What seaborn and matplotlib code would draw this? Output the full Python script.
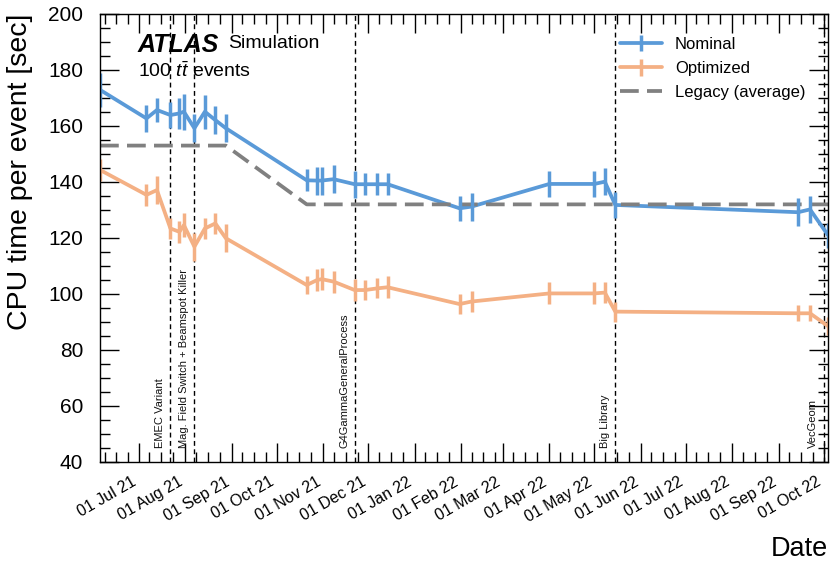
import numpy as np
import pandas as pd
import matplotlib
matplotlib.use("Agg")
import matplotlib.pyplot as plt
import matplotlib.dates as mdates
from matplotlib.ticker import MultipleLocator
import seaborn as sns

# ---------------- data ----------------
dates = ["2021-06-05", "2021-07-06", "2021-07-13", "2021-07-22", "2021-07-28",
         "2021-07-31", "2021-08-07", "2021-08-14", "2021-08-21", "2021-08-28",
         "2021-10-21", "2021-10-28", "2021-10-31", "2021-11-08", "2021-11-22",
         "2021-11-29", "2021-12-07", "2021-12-14", "2022-01-31", "2022-02-08",
         "2022-04-01", "2022-05-01", "2022-05-08", "2022-05-15", "2022-09-14",
         "2022-09-22", "2022-10-04"]
nominal = [172.9, 162.7, 165.7, 163.9, 164.5, 165.1, 159.2, 165.1, 162.1, 159.2,
           140.6, 140.5, 140.5, 141.0, 139.2, 139.2, 139.2, 139.2, 130.6, 131.2,
           139.3, 139.3, 140.1, 131.8, 129.2, 130.2, 121.0]
nominal_err = [6.0, 4.8, 4.2, 4.5, 5.6, 6.4, 5.0, 6.0, 5.0, 5.0,
               3.9, 5.0, 5.0, 5.0, 4.8, 3.9, 3.9, 3.9, 4.5, 5.0,
               4.8, 4.8, 4.8, 4.8, 5.0, 4.9, 4.5]
optimized = [144.3, 135.4, 137.1, 123.4, 122.2, 124.6, 116.9, 123.4, 125.2, 119.9,
             103.2, 105.0, 105.3, 104.4, 101.4, 101.4, 102.0, 102.4, 96.4, 97.3,
             100.2, 100.2, 100.5, 93.7, 93.1, 93.1, 88.5]
optimized_err = [3.9, 3.9, 5.0, 3.6, 3.9, 4.2, 5.0, 3.9, 3.9, 5.0,
                 3.3, 3.9, 3.9, 3.9, 3.9, 3.6, 3.6, 3.9, 3.6, 3.9,
                 3.9, 3.9, 3.6, 3.6, 2.8, 2.8, 3.3]
legacy = [153, 153, 153, 153, 153, 153, 153, 153, 153, 153,
          132, 132, 132, 132, 132, 132, 132, 132, 132, 132,
          132, 132, 132, 132, 132, 132, 132]
event_dates = ["2021-07-22", "2021-08-07", "2021-11-22", "2022-05-15", "2022-10-01"]
event_labels = ["EMEC Variant", "Mag. Field Switch + Beamspot Killer",
                "G4GammaGeneralProcess", "Big Library", "VecGeom"]

df = pd.DataFrame({"date": pd.to_datetime(dates), "Nominal": nominal,
                   "Optimized": optimized, "Legacy": legacy})

BLUE = "#5A9AD8"
ORANGE = "#F4B084"
GRAY = "#808080"

# ---------------- style ----------------
sns.set_theme(style="ticks")
plt.rcParams["font.family"] = ["Liberation Sans", "DejaVu Sans"]
plt.rcParams["mathtext.fontset"] = "custom"
plt.rcParams["mathtext.it"] = "Liberation Sans:italic"
plt.rcParams["mathtext.rm"] = "Liberation Sans"
for k in ["text.color", "axes.labelcolor", "xtick.color", "ytick.color",
          "axes.edgecolor"]:
    plt.rcParams[k] = "black"

fig = plt.figure(figsize=(8.3, 5.64), dpi=100)
ax = fig.add_axes([0.1205, 0.1809, 0.8771, 0.7943])

# lines
sns.lineplot(data=df, x="date", y="Nominal", ax=ax, color=BLUE, lw=2.7, legend=False)
sns.lineplot(data=df, x="date", y="Optimized", ax=ax, color=ORANGE, lw=2.7, legend=False)
sns.lineplot(data=df, x="date", y="Legacy", ax=ax, color=GRAY, lw=2.7, legend=False)
line_leg = ax.lines[-1]
line_leg.set_dashes((5, 2.2))

ax.errorbar(df["date"], df["Nominal"], yerr=nominal_err, fmt="none",
            ecolor=BLUE, elinewidth=2.5, capsize=0)
ax.errorbar(df["date"], df["Optimized"], yerr=optimized_err, fmt="none",
            ecolor=ORANGE, elinewidth=2.5, capsize=0)

# legend proxies (line + vertical error bar)
p_nom = ax.errorbar([np.nan], [np.nan], yerr=[1.0], fmt="-", color=BLUE, lw=2.7,
                    elinewidth=2.5, capsize=0)
p_opt = ax.errorbar([np.nan], [np.nan], yerr=[1.0], fmt="-", color=ORANGE, lw=2.7,
                    elinewidth=2.5, capsize=0)

# event lines
for d, lab in zip(event_dates, event_labels):
    dt = pd.Timestamp(d)
    ax.axvline(dt, color="black", lw=1.0, ls=(0, (3.5, 2.5)), zorder=1)
    ax.annotate(lab, xy=(dt, 45), xytext=(-4, 0), textcoords="offset points",
                rotation=90, ha="right", va="bottom", fontsize=8, color="#111111")

# axes
ax.set_xlim(pd.Timestamp(dates[0]), pd.Timestamp(dates[-1]))
ax.set_ylim(40, 200)
ax.yaxis.set_major_locator(MultipleLocator(20))
ax.yaxis.set_minor_locator(MultipleLocator(5))
ax.xaxis.set_major_locator(mdates.MonthLocator(bymonthday=1))
ax.xaxis.set_minor_locator(mdates.DayLocator(bymonthday=[8, 16, 24]))
ax.xaxis.set_major_formatter(mdates.DateFormatter("%d %b %y"))

ax.tick_params(axis="both", which="both", direction="in", top=True, right=True,
               color="black")
ax.tick_params(axis="both", which="major", length=14, width=1.0)
ax.tick_params(axis="both", which="minor", length=7, width=1.0)
ax.tick_params(axis="y", which="major", labelsize=15, pad=12)
ax.tick_params(axis="x", which="major", labelsize=11.5, pad=9)
for lab in ax.get_xticklabels():
    lab.set_rotation(30)
    lab.set_ha("right")
for sp in ax.spines.values():
    sp.set_color("black")
    sp.set_linewidth(1.0)

ax.set_ylabel("CPU time per event [sec]", fontsize=20.5, loc="top")
ax.yaxis.set_label_coords(-0.092, 1.0)
ax.set_xlabel("Date", fontsize=19.5, loc="right")
ax.xaxis.set_label_coords(1.0, -0.165)

# ATLAS label
ax.text(0.052, 0.957, "ATLAS", transform=ax.transAxes, fontsize=18,
        fontweight="bold", fontstyle="italic", va="top", ha="left")
ax.text(0.176, 0.952, "Simulation", transform=ax.transAxes, fontsize=14,
        va="top", ha="left")
ax.text(0.052, 0.895, r"100 $t\bar{t}$ events", transform=ax.transAxes,
        fontsize=14, va="top", ha="left")

# legend
ax.legend([p_nom, p_opt, line_leg], ["Nominal", "Optimized", "Legacy (average)"],
          loc="upper right", bbox_to_anchor=(0.985, 0.975), frameon=False,
          fontsize=12, handlelength=2.5, handletextpad=0.8,
          labelspacing=0.55, borderaxespad=0.3)

fig.savefig("out.png", dpi=100)
